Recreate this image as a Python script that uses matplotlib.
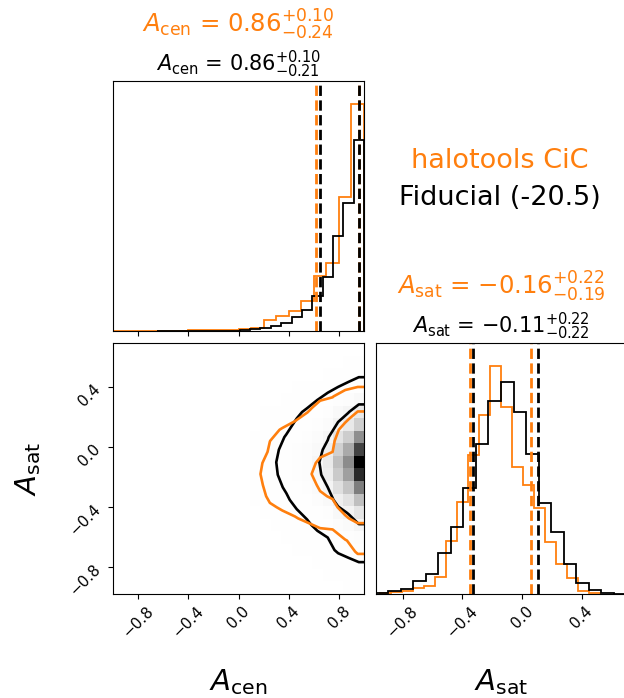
import numpy as np
import matplotlib.pyplot as plt
from matplotlib.colors import LinearSegmentedColormap

# values
labels = [r"$A_{\rm cen}$", r"$A_{\rm sat}$"]
names = ["halotools CiC", "Fiducial (-20.5)"]
colors = ["#ff7f0e", "black"]

# 20-bin histograms, each sample binned over its own range
cic_cen_range = (-1.0, 1.0)
cic_cen_counts = [1, 1, 1, 1, 1, 1, 2, 2, 2, 3, 5, 10, 32, 44, 59, 89, 164, 204, 402, 682]
cic_sat_range = (-0.955, 0.525)
cic_sat_counts = [2, 5, 10, 17, 24, 52, 160, 275, 417, 537, 684, 560, 380, 328, 257, 157, 90, 49, 10, 4]

fid_cen_range = (-0.65, 1.0)
fid_cen_counts = [1, 0, 0, 0, 0, 1, 1, 1, 2, 5, 9, 15, 25, 42, 62, 104, 162, 285, 384, 572]
fid_sat_range = (-0.979, 0.697)
fid_sat_counts = [4, 10, 16, 40, 60, 122, 200, 317, 450, 580, 635, 545, 420, 274, 185, 90, 34, 12, 4, 1]

# median, +err, -err (as in the titles)
cic_cen_stats = (0.86, 0.10, 0.24)
cic_sat_stats = (-0.16, 0.22, 0.19)
fid_cen_stats = (0.86, 0.10, 0.21)
fid_sat_stats = (-0.11, 0.22, 0.22)

cen_lim = (-1.0, 1.0)
sat_lim = (-0.979, 0.697)
cen_ticks = [-0.8, -0.4, 0.0, 0.4, 0.8]
sat_ticks = [-0.8, -0.4, 0.0, 0.4]
contour_levels = [0.70, 0.95]


def edges(rng, counts):
    return np.linspace(rng[0], rng[1], len(counts) + 1)


def joint(cen_counts, cen_range, sat_counts, sat_range):
    # 2D density built from the two marginals (rows = A_sat, cols = A_cen)
    xe = edges(cen_range, cen_counts)
    ye = edges(sat_range, sat_counts)
    H = np.outer(np.asarray(sat_counts, float), np.asarray(cen_counts, float))
    return xe, ye, H


def mass_levels(H, masses):
    flat = np.sort(H.ravel())[::-1]
    cum = np.cumsum(flat)
    cum /= cum[-1]
    V = [flat[cum <= m][-1] for m in masses]
    return sorted(V)


def padded(xe, ye, H):
    # pad like corner so the contours run out past the edges
    xc = 0.5 * (xe[1:] + xe[:-1])
    yc = 0.5 * (ye[1:] + ye[:-1])
    dx, dy = xc[1] - xc[0], yc[1] - yc[0]
    X2 = np.concatenate([[xc[0] - 2 * dx, xc[0] - dx], xc, [xc[-1] + dx, xc[-1] + 2 * dx]])
    Y2 = np.concatenate([[yc[0] - 2 * dy, yc[0] - dy], yc, [yc[-1] + dy, yc[-1] + 2 * dy]])
    H2 = np.full((H.shape[0] + 4, H.shape[1] + 4), H.min())
    H2[2:-2, 2:-2] = H
    H2[2:-2, 1] = H[:, 0]
    H2[2:-2, -2] = H[:, -1]
    H2[1, 2:-2] = H[0]
    H2[-2, 2:-2] = H[-1]
    H2[1, 1], H2[1, -2] = H[0, 0], H[0, -1]
    H2[-2, 1], H2[-2, -2] = H[-1, 0], H[-1, -1]
    return X2, Y2, H2


def title_str(label, stats):
    med, up, lo = stats
    return r"%s = $%.2f_{-%.2f}^{+%.2f}$" % (label, med, lo, up)


W, Hpx = 624, 698
fig = plt.figure(figsize=(W / 100, Hpx / 100), dpi=100)


def box(x0, y0, x1, y1):
    return [x0 / W, 1 - y1 / Hpx, (x1 - x0) / W, (y1 - y0) / Hpx]


ax_cen = fig.add_axes(box(113, 81, 364, 331))
ax_joint = fig.add_axes(box(113, 343, 364, 594))
ax_sat = fig.add_axes(box(376, 343, 626, 594))

samples = [
    (cic_cen_counts, cic_cen_range, cic_sat_counts, cic_sat_range, cic_cen_stats, cic_sat_stats),
    (fid_cen_counts, fid_cen_range, fid_sat_counts, fid_sat_range, fid_cen_stats, fid_sat_stats),
]

# diagonal histograms
for (cc, cr, sc, sr, cs, ss), col in zip(samples, colors):
    ax_cen.stairs(cc, edges(cr, cc), color=col, lw=1.3)
    ax_sat.stairs(sc, edges(sr, sc), color=col, lw=1.3)
    for ax, st in ((ax_cen, cs), (ax_sat, ss)):
        for q in (st[0] - st[2], st[0] + st[1]):
            ax.axvline(q, color=col, ls="--", lw=2)

ax_cen.set_ylim(0, 1.1 * max(max(cic_cen_counts), max(fid_cen_counts)))
ax_sat.set_ylim(0, 1.1 * max(max(cic_sat_counts), max(fid_sat_counts)))

# titles: orange above, black right over the axes
for ax, lab, st_c, st_f in ((ax_cen, labels[0], cic_cen_stats, fid_cen_stats),
                            (ax_sat, labels[1], cic_sat_stats, fid_sat_stats)):
    ax.annotate(title_str(lab, st_c), xy=(0.5, 1), xycoords="axes fraction",
                xytext=(0, 35), textcoords="offset points", ha="center",
                va="baseline", fontsize=17.6, color=colors[0])
    ax.annotate(title_str(lab, st_f), xy=(0.5, 1), xycoords="axes fraction",
                xytext=(0, 7), textcoords="offset points", ha="center",
                va="baseline", fontsize=15, color=colors[1])

# joint panel: density of the fiducial sample, contours for both
dens_cmap = LinearSegmentedColormap.from_list("dens", [(1, 1, 1, 0), (0, 0, 0, 1)])
xe, ye, Hf = joint(fid_cen_counts, fid_cen_range, fid_sat_counts, fid_sat_range)
ax_joint.pcolormesh(xe, ye, Hf, cmap=dens_cmap, vmin=0, vmax=Hf.max())

for (cc, cr, sc, sr, _, _), col in zip(samples[::-1], colors[::-1]):
    xe, ye, H = joint(cc, cr, sc, sr)
    X2, Y2, H2 = padded(xe, ye, H)
    ax_joint.contour(X2, Y2, H2, mass_levels(H, contour_levels), colors=col, linewidths=1.9)

ax_joint.set_xlim(cen_lim)
ax_joint.set_ylim(sat_lim)
ax_cen.set_xlim(cen_lim)
ax_sat.set_xlim(sat_lim)

ax_cen.set_xticks(cen_ticks)
ax_cen.set_xticklabels([])
ax_cen.set_yticks([])
ax_sat.set_yticks([])
ax_sat.set_xticks(sat_ticks)
ax_joint.set_xticks(cen_ticks)
ax_joint.set_yticks(sat_ticks)

for ax in (ax_joint, ax_sat):
    for t in ax.get_xticklabels():
        t.set_rotation(45)
        t.set_fontsize(11)
for t in ax_joint.get_yticklabels():
    t.set_rotation(45)
    t.set_fontsize(11)

ax_joint.set_xlabel(labels[0], fontsize=21)
ax_joint.xaxis.set_label_coords(0.5, -0.29)
ax_sat.set_xlabel(labels[1], fontsize=21)
ax_sat.xaxis.set_label_coords(0.5, -0.29)
ax_joint.set_ylabel(labels[1], fontsize=21)
ax_joint.yaxis.set_label_coords(-0.28, 0.5)

# sample names in the empty upper-right slot
fig.text(500 / W, 1 - 168 / Hpx, names[0], color=colors[0], fontsize=19.5, ha="center", va="baseline")
fig.text(500 / W, 1 - 205 / Hpx, names[1], color=colors[1], fontsize=19.5, ha="center", va="baseline")

fig.savefig("out.png", dpi=100)
